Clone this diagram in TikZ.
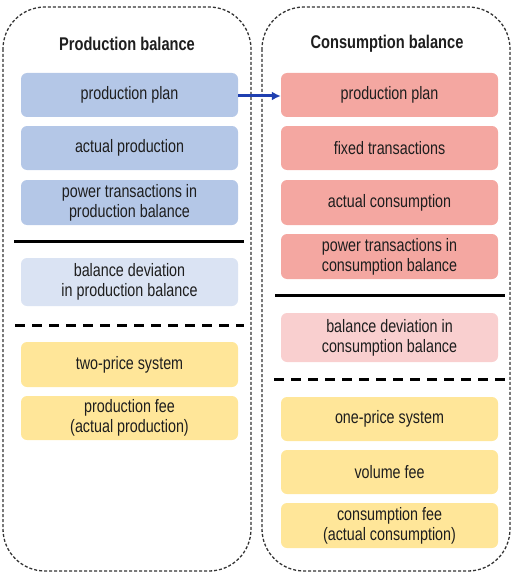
\documentclass[tikz,border=0pt]{standalone}
\usepackage{fontspec}
\setmainfont{Liberation Sans}[FakeStretch=0.795]
\usetikzlibrary{arrows.meta}
\definecolor{blueA}{HTML}{B4C7E7}
\definecolor{blueB}{HTML}{DAE3F3}
\definecolor{pinkA}{HTML}{F4A7A1}
\definecolor{pinkB}{HTML}{F9CFCF}
\definecolor{yellowA}{HTML}{FFE699}
\definecolor{arrowblue}{HTML}{1F3FB0}
\definecolor{txt}{HTML}{1E1E1E}
\begin{document}
\begin{tikzpicture}[x=1pt,y=-1pt,
  container/.style={draw=black!80, line width=1.3pt, dash pattern=on 3pt off 2pt, rounded corners=42pt},
  card/.style={rectangle, rounded corners=6pt, draw=none, minimum width=217pt, align=center, inner sep=0pt,
    font=\fontsize{18}{20}\selectfont, text=txt},
  title/.style={font=\fontsize{18.4}{20}\selectfont\bfseries, text=txt},
  solidsep/.style={line width=3pt, black},
  dashsep/.style={line width=3pt, black, dash pattern=on 10pt off 7pt},
]
\useasboundingbox (0,0) rectangle (513,575);
% containers
\draw[container] (3,7) rectangle (251,571);
\draw[container] (262,7) rectangle (510,571);
% titles
\node[title] (tl) at (127,44) {Production balance};
\node[title] (tr) at (387,44) {Consumption balance};
% left cards
\node[card, fill=blueA, minimum height=44pt] (l1) at (129.5,95) {production plan};
\node[card, fill=blueA, minimum height=44pt] (l2) at (129.5,148) {actual production};
\node[card, fill=blueA, minimum height=45pt] (l3) at (129.5,202.5) {power transactions in\\production balance};
\node[card, fill=blueB, minimum height=48pt] (l4) at (129.5,282) {balance deviation\\in production balance};
\node[card, fill=yellowA, minimum height=45pt] (l5) at (129.5,364.5) {two-price system};
\node[card, fill=yellowA, minimum height=44pt] (l6) at (129.5,418) {production fee\\(actual production)};
% right cards
\node[card, fill=pinkA, minimum height=44pt] (r1) at (389.5,95) {production plan};
\node[card, fill=pinkA, minimum height=44pt] (r2) at (389.5,148) {fixed transactions};
\node[card, fill=pinkA, minimum height=45pt] (r3) at (389.5,202.5) {actual consumption};
\node[card, fill=pinkA, minimum height=45pt] (r4) at (389.5,256.5) {power transactions in\\consumption balance};
\node[card, fill=pinkB, minimum height=49pt] (r5) at (389.5,337.5) {balance deviation in\\consumption balance};
\node[card, fill=yellowA, minimum height=44pt] (r6) at (389.5,419) {one-price system};
\node[card, fill=yellowA, minimum height=44pt] (r7) at (389.5,472) {volume fee};
\node[card, fill=yellowA, minimum height=45pt] (r8) at (389.5,525.5) {consumption fee\\(actual consumption)};
% separators
\coordinate (ls1a) at (14,241); \coordinate (ls1b) at (244,241);
\coordinate (ls2a) at (15,325); \coordinate (ls2b) at (244,325);
\coordinate (rs1a) at (275,295); \coordinate (rs1b) at (505,295);
\coordinate (rs2a) at (274,379); \coordinate (rs2b) at (505,379);
\draw[solidsep] (ls1a) -- (ls1b);
\draw[dashsep] (ls2a) -- (ls2b);
\draw[solidsep] (rs1a) -- (rs1b);
\draw[dashsep] (rs2a) -- (rs2b);
% arrow
\draw[arrowblue, line width=3pt, -{Latex[length=9pt,width=9pt]}] ([yshift=-1pt]l1.east) -- ([yshift=-1pt]r1.west);
\end{tikzpicture}
\end{document}
